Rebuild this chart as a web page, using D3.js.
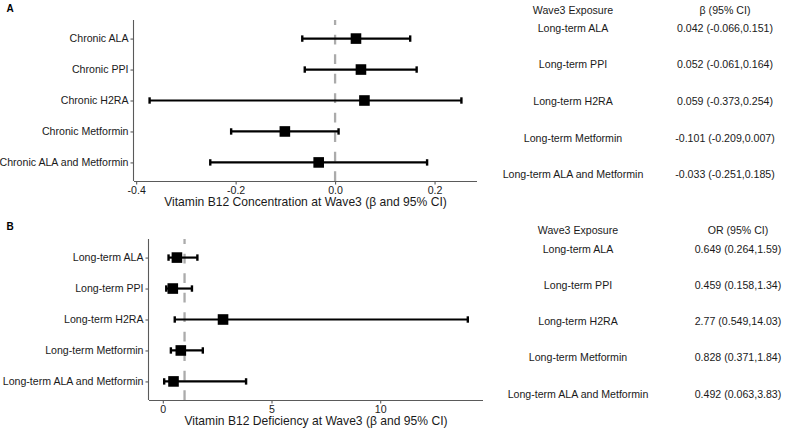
<!DOCTYPE html>
<html>
<head>
<meta charset="utf-8">
<script src="https://cdn.jsdelivr.net/npm/d3@7"></script>
<style>
  html, body { margin: 0; padding: 0; background: #fff; }
  svg { display: block; font-family: "Liberation Sans", Arial, sans-serif; }
</style>
</head>
<body>
<svg id="chart" width="789" height="429"></svg>
<script>
// ---- Data ----
const labelsA = ["Chronic ALA", "Chronic PPI", "Chronic H2RA", "Chronic Metformin", "Chronic ALA and Metformin"];
const estA = [0.042, 0.052, 0.059, -0.101, -0.033];
const lowA = [-0.066, -0.061, -0.373, -0.209, -0.251];
const highA = [0.151, 0.164, 0.254, 0.007, 0.185];
const ticksA = [-0.4, -0.2, 0.0, 0.2];
const tickLabelsA = ["-0.4", "-0.2", "0.0", "0.2"];
const refA = 0;

const labelsB = ["Long-term ALA", "Long-term PPI", "Long-term H2RA", "Long-term Metformin", "Long-term ALA and Metformin"];
const estB = [0.649, 0.459, 2.77, 0.828, 0.492];
const lowB = [0.264, 0.158, 0.549, 0.371, 0.063];
const highB = [1.59, 1.34, 14.03, 1.84, 3.83];
const ticksB = [0, 5, 10];
const tickLabelsB = ["0", "5", "10"];
const refB = 1;

const exposureLabels = ["Long-term ALA", "Long-term PPI", "Long-term H2RA", "Long-term Metformin", "Long-term ALA and Metformin"];
const ciTextA = ["0.042 (-0.066,0.151)", "0.052 (-0.061,0.164)", "0.059 (-0.373,0.254)", "-0.101 (-0.209,0.007)", "-0.033 (-0.251,0.185)"];
const ciTextB = ["0.649 (0.264,1.59)", "0.459 (0.158,1.34)", "2.77 (0.549,14.03)", "0.828 (0.371,1.84)", "0.492 (0.063,3.83)"];
const headerA = ["Wave3 Exposure", "\u03B2 (95% CI)"];
const headerB = ["Wave3 Exposure", "OR (95% CI)"];
const titleA = "Vitamin B12 Concentration at Wave3 (\u03B2 and 95% CI)";
const titleB = "Vitamin B12 Deficiency at Wave3 (\u03B2 and 95% CI)";

// ---- Drawing ----
const svg = d3.select("#chart");
const FS = 10.6;
const TEXT = "#1a1a1a";
const AXIS = "#5a5a5a";

function expandDomain(lo, hi) {
  const min = d3.min(lo), max = d3.max(hi), pad = (max - min) * 0.05;
  return [min - pad, max + pad];
}

function panel(cfg) {
  const g = svg.append("g");
  const x = d3.scaleLinear().domain(expandDomain(cfg.low, cfg.high)).range(cfg.xRange);
  const y = d3.scalePoint().domain(cfg.labels).range(cfg.yRange).padding(0.6);
  const [x0, x1] = cfg.xRange;
  const [y0, y1] = cfg.yRange;

  // reference dashed line (pattern starting from bottom)
  g.append("line")
    .attr("x1", x(cfg.ref)).attr("x2", x(cfg.ref))
    .attr("y1", y1).attr("y2", y0)
    .attr("stroke", "#ababab").attr("stroke-width", 2.3)
    .attr("stroke-dasharray", "9.7,9.8");

  // axes
  const xAxis = g.append("g").attr("transform", `translate(0,${y1})`)
    .call(d3.axisBottom(x).tickValues(cfg.ticks).tickFormat((d, i) => cfg.tickLabels[i]).tickSize(3.5).tickPadding(1.8));
  const yAxis = g.append("g").attr("transform", `translate(${x0},0)`)
    .call(d3.axisLeft(y).tickSize(3.5).tickPadding(2));
  [xAxis, yAxis].forEach(a => {
    a.select(".domain").attr("stroke", AXIS).attr("stroke-width", 1.1);
    a.selectAll(".tick line").attr("stroke", AXIS).attr("stroke-width", 1.1);
    a.selectAll(".tick text").attr("font-size", FS).attr("fill", TEXT)
      .attr("font-family", "'Liberation Sans', Arial, sans-serif");
  });
  xAxis.select(".domain").attr("d", `M${x0},0.5H${x1}`);
  yAxis.select(".domain").attr("d", `M-0.5,${y0}V${y1}`);

  // error bars
  const rows = cfg.labels.map((l, i) => ({ l, e: cfg.est[i], lo: cfg.low[i], hi: cfg.high[i] }));
  const eb = g.append("g").selectAll("g").data(rows).join("g");
  eb.append("line")
    .attr("x1", d => x(d.lo)).attr("x2", d => x(d.hi))
    .attr("y1", d => y(d.l)).attr("y2", d => y(d.l))
    .attr("stroke", "#000").attr("stroke-width", 2.2);
  ["lo", "hi"].forEach(k => {
    eb.append("line")
      .attr("x1", d => x(d[k])).attr("x2", d => x(d[k]))
      .attr("y1", d => y(d.l) - 3.2).attr("y2", d => y(d.l) + 3.2)
      .attr("stroke", "#000").attr("stroke-width", 2.4);
  });
  const S = 10.6;
  eb.append("rect")
    .attr("x", d => x(d.e) - S / 2).attr("y", d => y(d.l) - S / 2)
    .attr("width", S).attr("height", S).attr("fill", "#000");

  // x-axis title
  g.append("text")
    .attr("x", (x0 + x1) / 2).attr("y", y1 + 25.2)
    .attr("text-anchor", "middle").attr("font-size", 12.1).attr("fill", TEXT)
    .text(cfg.title);

  // panel tag
  g.append("text")
    .attr("x", 6.5).attr("y", cfg.tagY)
    .attr("font-size", 10).attr("font-weight", "bold").attr("fill", "#000")
    .text(cfg.tag);

  // side table
  const ty = d3.scaleLinear().domain([0, cfg.labels.length - 1]).range(cfg.tableRange);
  const cap = 0.36 * FS;
  g.append("text").attr("x", cfg.colX[0]).attr("y", cfg.headerY + cap)
    .attr("text-anchor", "middle").attr("font-size", FS).attr("fill", TEXT).text(cfg.header[0]);
  g.append("text").attr("x", cfg.colX[1]).attr("y", cfg.headerY + cap)
    .attr("text-anchor", "middle").attr("font-size", FS).attr("fill", TEXT).text(cfg.header[1]);
  g.append("g").selectAll("text").data(exposureLabels).join("text")
    .attr("x", cfg.colX[0]).attr("y", (d, i) => ty(i) + cap)
    .attr("text-anchor", "middle").attr("font-size", FS).attr("fill", TEXT).text(d => d);
  g.append("g").selectAll("text").data(cfg.ci).join("text")
    .attr("x", cfg.colX[1]).attr("y", (d, i) => ty(i) + cap)
    .attr("text-anchor", "middle").attr("font-size", FS).attr("fill", TEXT).text(d => d);
}

panel({
  labels: labelsA, est: estA, low: lowA, high: highA, ticks: ticksA, tickLabels: tickLabelsA, ref: refA,
  xRange: [134, 477], yRange: [20, 181], title: titleA, tag: "A", tagY: 12,
  header: headerA, ci: ciTextA, colX: [573, 725], headerY: 10.5, tableRange: [27.8, 174.5]
});
panel({
  labels: labelsB, est: estB, low: lowB, high: highB, ticks: ticksB, tickLabels: tickLabelsB, ref: refB,
  xRange: [149, 483], yRange: [239, 400], title: titleB, tag: "B", tagY: 230,
  header: headerB, ci: ciTextB, colX: [578, 738], headerY: 230.5, tableRange: [248.8, 393.8]
});
</script>
</body>
</html>
